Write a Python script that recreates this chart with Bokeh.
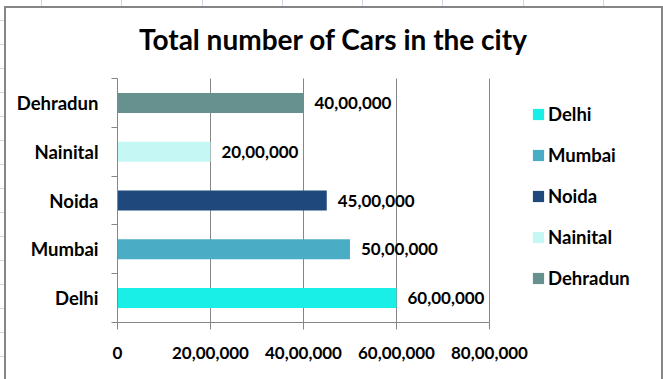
from bokeh.plotting import figure
from bokeh.models import Range1d, FixedTicker, ColumnDataSource, Legend, LegendItem, Label
from bokeh.core.properties import value
from bokeh.embed import file_html
from bokeh.resources import INLINE

chart_title = "Total number of Cars in the city"
cities = ["Delhi", "Mumbai", "Noida", "Nainital", "Dehradun"]
cars = [6000000, 5000000, 4500000, 2000000, 4000000]
colors = ["#19EFE6", "#4BACC6", "#1F497D", "#C5F7F5", "#66918E"]
x_ticks = [0, 2000000, 4000000, 6000000, 8000000]
x_tick_labels = ["0", "20,00,000", "40,00,000", "60,00,000", "80,00,000"]


def indian(n):
    s = str(int(n))
    if len(s) <= 3:
        return s
    head, tail = s[:-3], s[-3:]
    groups = []
    while len(head) > 2:
        groups.insert(0, head[-2:])
        head = head[:-2]
    if head:
        groups.insert(0, head)
    return ",".join(groups + [tail])


FONT = value("Lato")
GRAY = "#868686"
SHEET = "#D0D7E5"

# layout (pixels): figure, plot area inside the chart area
W, H = 663, 379
FL, FR, FT, FB = 117, 655, 8, 322      # frame edges
PL, PR, PT = 117, 489, 78             # plot area (axes extent)

# page decoration: spreadsheet gridlines and chart-area border (CSS background)
layers = []
for gx in (41, 121, 202, 282, 362, 442, 523, 603):
    layers.append(f"linear-gradient({SHEET},{SHEET}) {gx}px 0px / 1px 6px no-repeat")
for k in range(15):
    layers.append(f"linear-gradient({SHEET},{SHEET}) 0px {20 + 24 * k}px / 4px 1px no-repeat")
layers.append(f"linear-gradient({GRAY},{GRAY}) 4px 6px / 2px 380px no-repeat")
layers.append(f"linear-gradient({GRAY},{GRAY}) 4px 6px / 659px 2px no-repeat")
layers.append(f"linear-gradient({GRAY},{GRAY}) 661px 6px / 2px 380px no-repeat")
layers.append("white")

n = len(cities)
pos = [i + 0.5 for i in range(n)]
src = ColumnDataSource(dict(city=cities, cars=cars, pos=pos, color=colors,
                            label=[indian(v) for v in cars]))

x_max = x_ticks[-1]
x_end = x_max * (FR - FL) / (PR - PL)
y_end = n * (FB - FT) / (FB - PT)

p = figure(width=W, height=H, output_backend="svg", toolbar_location=None,
           x_range=Range1d(0, x_end), y_range=Range1d(0, y_end),
           min_border_left=FL, min_border_right=W - FR, min_border_top=FT,
           min_border_bottom=H - FB)
p.styles = {"background": ", ".join(layers)}
p.outline_line_color = None
p.background_fill_color = "white"
p.border_fill_alpha = 0
p.title.visible = False
p.xgrid.visible = False
p.ygrid.visible = False

# vertical gridlines over the plot area only
p.segment(x0=x_ticks[1:], y0=[0] * 4, x1=x_ticks[1:], y1=[n] * 4,
          line_color=GRAY, line_width=1, level="underlay")

bars = p.hbar(y="pos", right="cars", left=0, height=0.41, color="color",
              line_color=None, source=src)

p.text(x="cars", y="pos", text="label", source=src, x_offset=11,
       text_baseline="middle", text_align="left", text_font=FONT,
       text_font_style="bold", text_font_size="17px", text_color="black")

# x axis
xa = p.xaxis[0]
xa.bounds = (0, x_max)
xa.ticker = FixedTicker(ticks=x_ticks, minor_ticks=[])
xa.major_label_overrides = {t: l for t, l in zip(x_ticks, x_tick_labels)}
xa.axis_line_color = GRAY
xa.major_tick_line_color = GRAY
xa.major_tick_out = 7
xa.major_tick_in = 0
xa.minor_tick_line_color = None
xa.major_label_text_font = "Lato"
xa.major_label_text_font_style = "bold"
xa.major_label_text_font_size = "17px"
xa.major_label_text_color = "black"
xa.major_label_standoff = 17

# y axis
ya = p.yaxis[0]
ya.bounds = (0, n)
ya.ticker = FixedTicker(ticks=pos, minor_ticks=list(range(n + 1)))
ya.major_label_overrides = {t: c for t, c in zip(pos, cities)}
ya.axis_line_color = GRAY
ya.major_tick_line_color = None
ya.major_tick_out = 0
ya.major_tick_in = 0
ya.minor_tick_line_color = GRAY
ya.minor_tick_out = 6
ya.minor_tick_in = 0
ya.major_label_text_font = "Lato"
ya.major_label_text_font_style = "bold"
ya.major_label_text_font_size = "18.5px"
ya.major_label_text_color = "black"
ya.major_label_standoff = 13

# legend
lg = Legend(items=[LegendItem(label=c, renderers=[bars], index=i)
                   for i, c in enumerate(cities)])
lg.location = (414, 33)
lg.orientation = "vertical"
lg.padding = 0
lg.margin = 0
lg.spacing = 19
lg.glyph_width = 14
lg.glyph_height = 14
lg.label_height = 20
lg.label_standoff = 3
lg.border_line_color = None
lg.background_fill_alpha = 0
lg.label_text_font = "Lato"
lg.label_text_font_style = "bold"
lg.label_text_font_size = "18.5px"
lg.label_text_color = "black"
p.add_layout(lg)

# title
p.add_layout(Label(x=333 - FL, y=FB - 38, x_units="screen", y_units="screen",
                   text=chart_title, text_align="center", text_baseline="middle",
                   text_font="Lato", text_font_style="bold", text_font_size="28px",
                   text_color="black"))

open("out.html", "w").write(file_html(p, INLINE))
